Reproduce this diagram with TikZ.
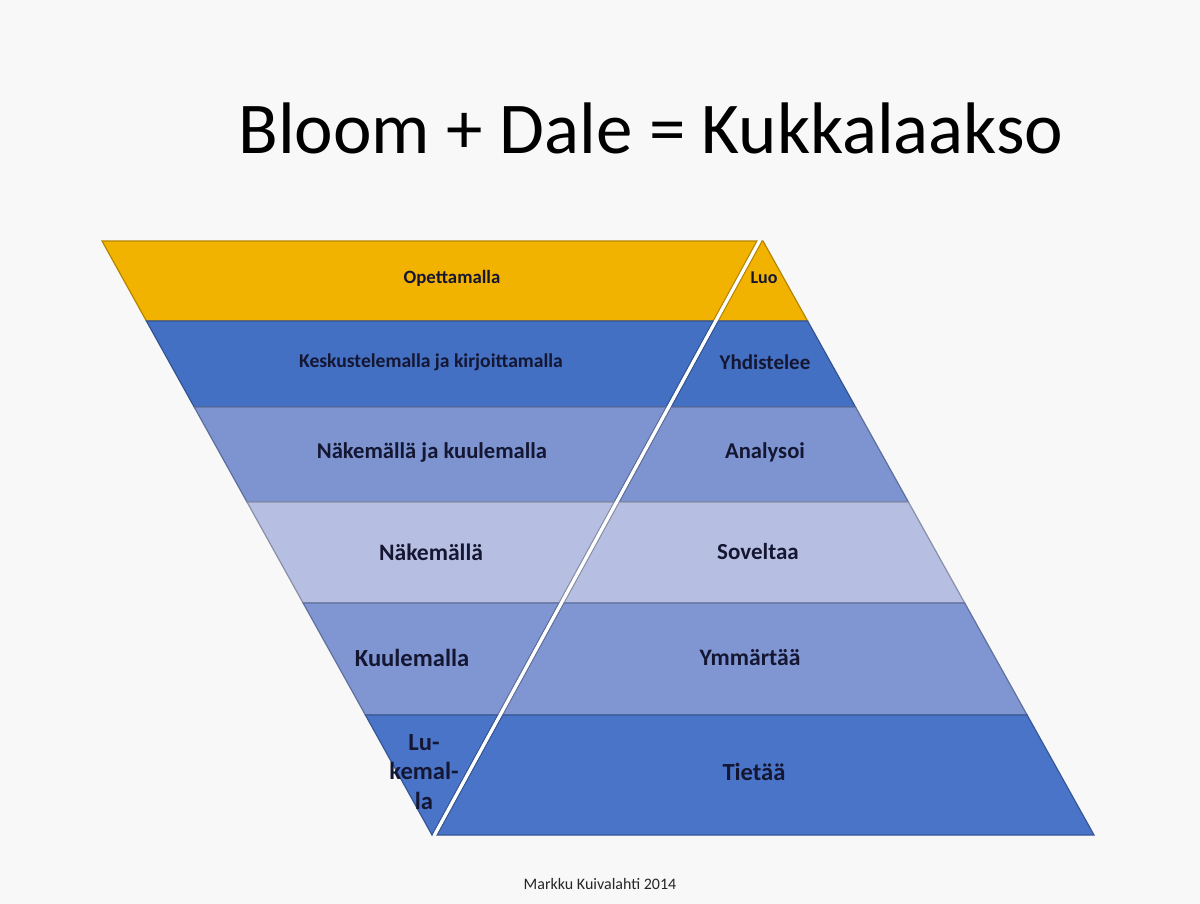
\documentclass[tikz,border=0pt]{standalone}
\usepackage{fontspec}
\setmainfont{Carlito}
\definecolor{pagebg}{RGB}{248,248,248}
\definecolor{gold}{RGB}{242,178,0}
\definecolor{bluedark}{RGB}{68,112,196}
\definecolor{bluemid}{RGB}{125,148,208}
\definecolor{bluelight}{RGB}{182,191,225}
\definecolor{bluesoft}{RGB}{128,150,210}
\definecolor{bluebase}{RGB}{74,116,200}
\definecolor{inktext}{RGB}{20,22,50}
\tikzset{
  band/.style={line width=0.6pt, draw=#1!75!black, fill=#1},
  lbl/.style={align=center, text=inktext, font=\bfseries\fontsize{#1}{#1}\selectfont},
}

\begin{document}
\begin{tikzpicture}[x=0.5pt,y=-0.5pt]
    \fill[pagebg] (0,0) rectangle (1200,904);
    \useasboundingbox (0,0) rectangle (1200,904);
    \node[font=\fontsize{36.5}{40}\selectfont] (title) at (651,128) {Bloom + Dale = Kukkalaakso};

    % Dale: vasen kartio
    \draw[band=gold] (102,241) -- (757,241) -- (713.2,321) -- (146.4,321) -- cycle;
    \draw[band=bluedark] (146.4,321) -- (713.2,321) -- (666.2,407) -- (194.2,407) -- cycle;
    \draw[band=bluemid] (194.2,407) -- (666.2,407) -- (614.2,502) -- (247,502) -- cycle;
    \draw[band=bluelight] (247,502) -- (614.2,502) -- (558.9,603) -- (303.1,603) -- cycle;
    \draw[band=bluesoft] (303.1,603) -- (558.9,603) -- (497.7,715) -- (365.4,715) -- cycle;
    \draw[band=bluebase] (365.4,715) -- (497.7,715) -- (432,835) -- cycle;

    % Bloom: oikea pyramidi
    \draw[band=gold] (762,241) -- (763,241) -- (807.6,321) -- (718.2,321) -- cycle;
    \draw[band=bluedark] (718.2,321) -- (807.6,321) -- (855.5,407) -- (671.2,407) -- cycle;
    \draw[band=bluemid] (671.2,407) -- (855.5,407) -- (908.4,502) -- (619.2,502) -- cycle;
    \draw[band=bluelight] (619.2,502) -- (908.4,502) -- (964.7,603) -- (563.9,603) -- cycle;
    \draw[band=bluesoft] (563.9,603) -- (964.7,603) -- (1027.1,715) -- (502.7,715) -- cycle;
    \draw[band=bluebase] (502.7,715) -- (1027.1,715) -- (1094,835) -- (437,835) -- cycle;

    % rako
    \draw[white, line width=1.5pt] (759.5,241) -- (434.5,835);

    \node[lbl=9.4] (opet) at (452,278) {Opettamalla};
    \node[lbl=9.8] (kesk) at (431,362) {Keskustelemalla ja kirjoittamalla};
    \node[lbl=11.3] (nakkuu) at (432,452) {Näkemällä ja kuulemalla};
    \node[lbl=11.8] (nake) at (431,552) {Näkemällä};
    \node[lbl=12.3] (kuul) at (412,658) {Kuulemalla};
    \node[lbl=12.3, align=center] (luke) at (424,772) {Lu-\\[2.5pt]kemal-\\[2.5pt]la};

    \node[lbl=9] (luo) at (764,278) {Luo};
    \node[lbl=10.5] (yhd) at (765,362) {Yhdistelee};
    \node[lbl=11.3] (anal) at (765,452) {Analysoi};
    \node[lbl=11.5] (sove) at (758,552) {Soveltaa};
    \node[lbl=11.8] (ymm) at (750,658) {Ymmärtää};
    \node[lbl=12.3] (tiet) at (754,772) {Tietää};

    \node[font=\fontsize{8}{9}\selectfont, text=black!85] (tekija) at (600,884) {Markku Kuivalahti 2014};
\end{tikzpicture}
\end{document}
